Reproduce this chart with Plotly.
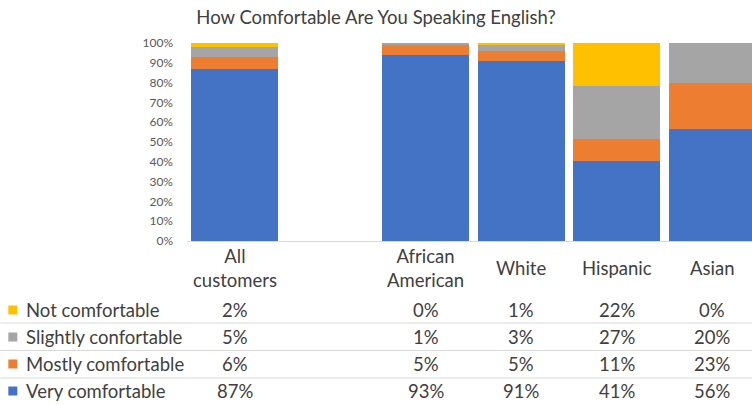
import plotly.graph_objects as go

# ---- data ----
categories = ["All customers", "", "African American", "White", "Hispanic", "Asian"]
cat_labels = ["All<br>customers", "", "African<br>American", "White", "Hispanic", "Asian"]
series_names = ["Very comfortable", "Mostly comfortable", "Slightly confortable", "Not comfortable"]
very_comfortable = [87, None, 93, 91, 41, 56]
mostly_comfortable = [6, None, 5, 5, 11, 23]
slightly_comfortable = [5, None, 1, 3, 27, 20]
not_comfortable = [2, None, 0, 1, 22, 0]
y_ticks = [0, 10, 20, 30, 40, 50, 60, 70, 80, 90, 100]
y_tick_labels = [f"{v}%" for v in y_ticks]

series_values = [very_comfortable, mostly_comfortable, slightly_comfortable, not_comfortable]
colors = ["#4472C4", "#ED7D31", "#A5A5A5", "#FFC000"]

W, H = 752, 404
ML, MT = 186.75, 43
PLOT_BOTTOM = 241
MB = H - PLOT_BOTTOM
MR = 0
pw = W - ML - MR
ph = PLOT_BOTTOM - MT
cat_px = 95.5

FONT = "Lato"
TXT = "#404040"
FS = 18.5

x_idx = list(range(len(categories)))

fig = go.Figure()
for name, vals, col in zip(series_names, series_values, colors):
    fig.add_trace(go.Bar(
        x=x_idx, y=vals, name=name, marker=dict(color=col, line=dict(width=0)),
        showlegend=False, hoverinfo="skip",
    ))

def px_to_py(ypix):
    return (PLOT_BOTTOM - ypix) / ph

def px_to_px(xpix):
    return (xpix - ML) / pw

annotations = []
# category labels
for i, lab in enumerate(cat_labels):
    if not lab:
        continue
    annotations.append(dict(
        x=i, xref="x", y=px_to_py(268), yref="paper", text=lab, showarrow=False,
        xanchor="center", yanchor="middle", align="center",
        font=dict(family=FONT, size=FS, color=TXT),
    ))

# data table rows (top row = Not comfortable)
row_centers = [310, 337, 364, 391]
table_order = [3, 2, 1, 0]
shapes = []
for r, si in enumerate(table_order):
    yc = px_to_py(row_centers[r])
    shapes.append(dict(
        type="rect", xref="paper", yref="paper",
        x0=px_to_px(8), x1=px_to_px(17),
        y0=px_to_py(row_centers[r] - 4.5), y1=px_to_py(row_centers[r] + 4.5),
        fillcolor=colors[si], line=dict(width=0),
    ))
    annotations.append(dict(
        x=px_to_px(24), xref="paper", y=yc, yref="paper", text=series_names[si],
        showarrow=False, xanchor="left", yanchor="middle",
        font=dict(family=FONT, size=FS, color=TXT),
    ))
    for i, v in enumerate(series_values[si]):
        if v is None:
            continue
        annotations.append(dict(
            x=i, xref="x", y=yc, yref="paper", text=f"{v}%", showarrow=False,
            xanchor="center", yanchor="middle",
            font=dict(family=FONT, size=FS, color=TXT),
        ))

# separator lines between rows
for ypix in [323, 350.5, 378]:
    shapes.append(dict(
        type="line", xref="paper", yref="paper",
        x0=px_to_px(0), x1=1.0, y0=px_to_py(ypix), y1=px_to_py(ypix),
        line=dict(color="#D9D9D9", width=1),
    ))

fig.update_layout(
    width=W, height=H,
    margin=dict(l=ML, r=MR, t=MT, b=MB, pad=0),
    paper_bgcolor="white", plot_bgcolor="white",
    barmode="stack", barnorm="percent", bargap=0.089,
    hovermode=False,
    title=dict(
        text="How Comfortable Are You Speaking English?",
        x=0.5, xref="container", xanchor="center",
        y=1 - 18 / H, yref="container", yanchor="middle",
        font=dict(family=FONT, size=18.5, color=TXT),
    ),
    xaxis=dict(
        range=[-0.5, -0.5 + pw / cat_px], showticklabels=False, ticks="",
        showgrid=False, zeroline=False, showline=True, linecolor="#D9D9D9", linewidth=1,
        fixedrange=True,
    ),
    yaxis=dict(
        range=[0, 100], tickmode="array", tickvals=y_ticks, ticktext=y_tick_labels,
        showgrid=False, zeroline=False, showline=False, ticks="", ticklabelstandoff=13,
        tickfont=dict(family=FONT, size=12, color="#595959"), fixedrange=True,
    ),
    annotations=annotations,
    shapes=shapes,
)

fig.write_html("out.html", config={"displayModeBar": False, "staticPlot": True},
               post_script="document.body.style.margin='0';document.body.style.overflow='hidden';")
